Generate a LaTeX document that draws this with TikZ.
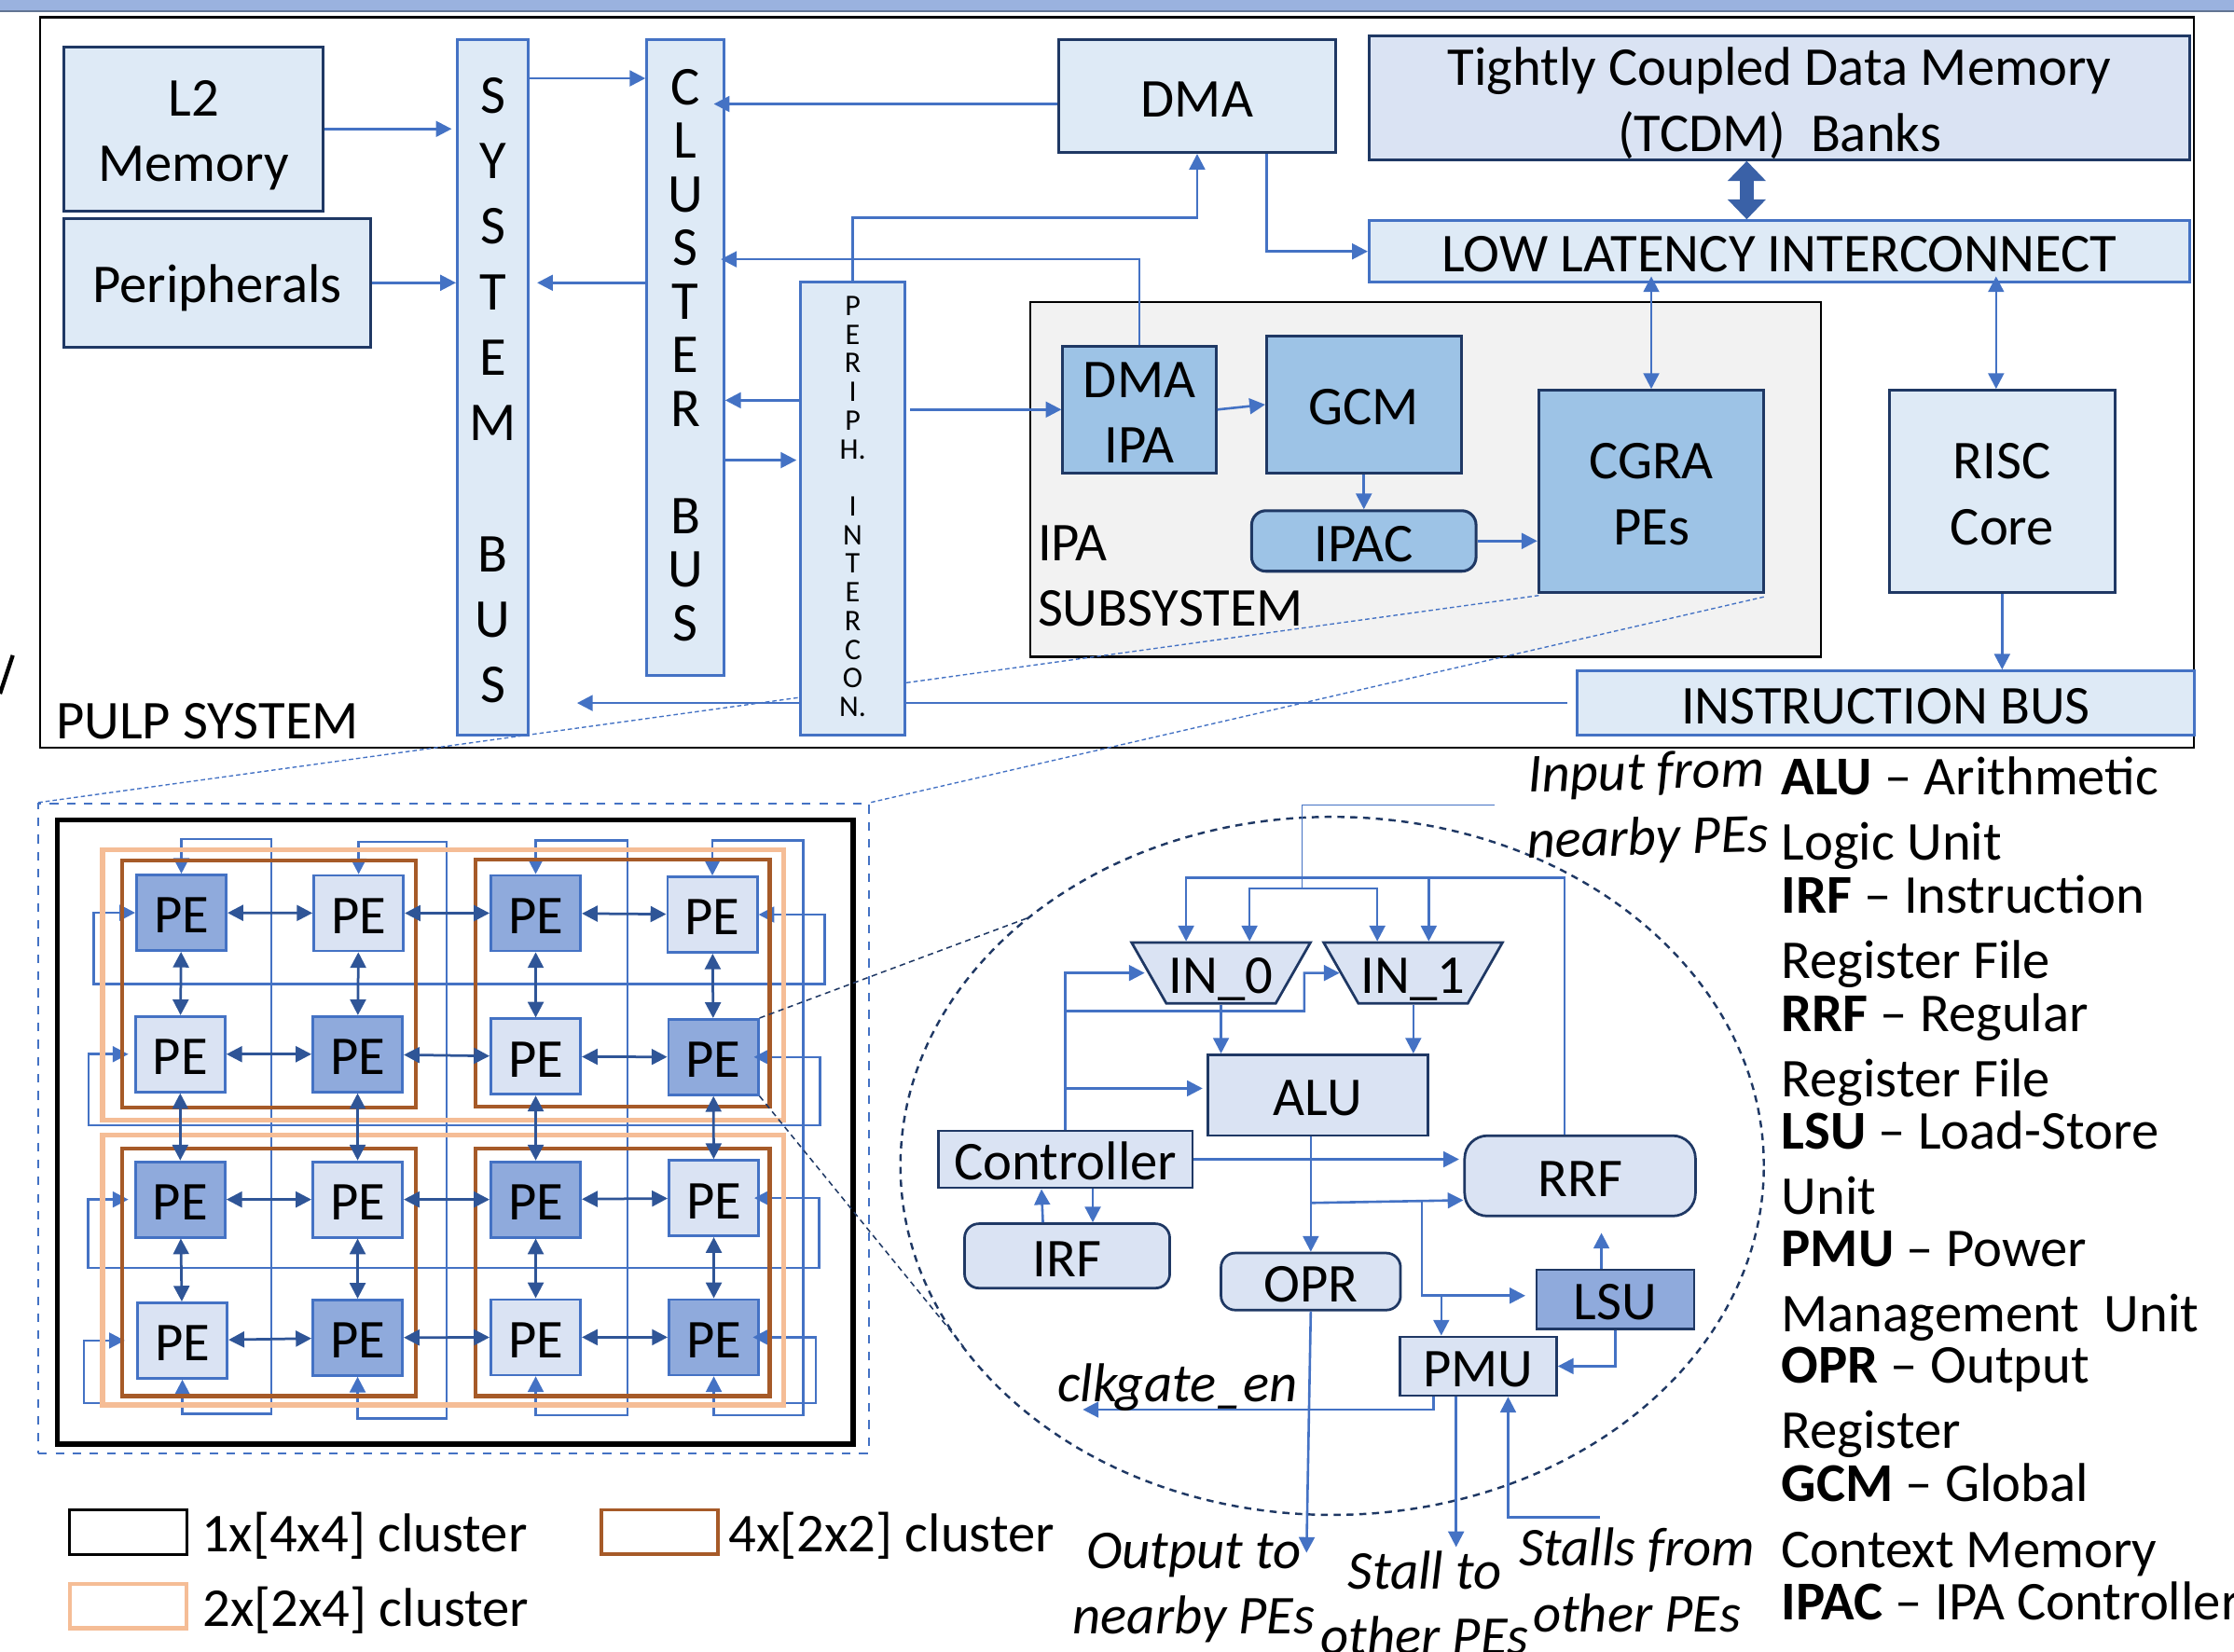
\documentclass[tikz,border=0pt]{standalone}
\usepackage{fontspec}
\setmainfont{Carlito}
\usetikzlibrary{arrows.meta,shapes.geometric}
\definecolor{paleblue}{HTML}{DEEAF6}
\definecolor{tcdmblue}{HTML}{DAE3F3}
\definecolor{ipablue}{HTML}{9DC3E6}
\definecolor{pedark}{HTML}{8FAADC}
\definecolor{flowblue}{HTML}{4472C4}
\definecolor{linkblue}{HTML}{2F5597}
\definecolor{navy}{HTML}{1F3864}
\definecolor{clusterbrown}{HTML}{A65A28}
\definecolor{clusterorange}{HTML}{F5BD96}
\tikzset{
    every node/.style={inner sep=0pt, align=center, font=\fontsize{19.2}{23}\selectfont,
        execute at begin node={\rule{0pt}{0.895em}},
        execute at end node={\rule[-0.147em]{0pt}{0pt}}},
    boxsize/.style 2 args={minimum width=#1*0.5pt, minimum height=#2*0.5pt},
    navybox/.style={draw=navy, line width=1pt, fill=paleblue},
    busbox/.style={draw=flowblue, line width=1pt, fill=paleblue},
    ipabox/.style={draw=navy, line width=1pt, fill=ipablue},
    corebox/.style={draw=navy, line width=0.9pt, fill=tcdmblue},
    roundbox/.style={corebox, rounded corners=5pt},
    muxbox/.style={corebox, trapezium, shape border rotate=180, trapezium stretches=true,
        trapezium left angle=60, trapezium right angle=60},
    pelight/.style={draw=flowblue, line width=0.9pt, fill=tcdmblue, boxsize={63}{53}},
    pedarkbox/.style={draw=flowblue, line width=0.9pt, fill=pedark, boxsize={63}{53}},
    brownframe/.style={draw=clusterbrown, line width=1.4pt, boxsize={206.5}{173.5}},
    orangeframe/.style={draw=clusterorange, line width=1.7pt, boxsize={478}{189.5}},
    legendbox/.style={boxsize={82}{31}, text height=0pt, text depth=0pt},
    flow/.style={draw=flowblue, line width=0.85pt, >={Triangle[length=5.5pt,width=5.5pt]}},
    pelink/.style={draw=linkblue, line width=0.9pt, <->, >={Triangle[length=5.5pt,width=5.5pt]}},
    zoomline/.style={draw=flowblue, line width=0.45pt, dash pattern=on 1.5pt off 1pt},
    zoomdark/.style={draw=navy, line width=0.5pt, dash pattern=on 2pt off 1.5pt},
    tag/.style={font=\fontsize{19.2}{23}\selectfont\itshape},
    gloss/.style={anchor=west, align=left},
}
\newcommand{\term}[1]{\textbf{#1}}
\newcommand{\firstline}{\rule{0pt}{0.895em}}
\begin{document}
\begin{tikzpicture}[x=0.5pt, y=-0.5pt]
    \useasboundingbox (0,0) rectangle (1568,1159.6);

    \fill[pedark!85!tcdmblue] (0,0) rectangle (1568,8);
    \draw[navy!70, line width=0.8pt] (0,8) -- (1568,8);
    \draw[black, line width=1.4pt] (9,460) -- (0,487);

    \node[draw=black, line width=0.8pt, fill=white, boxsize={1512}{513}] (pulpframe) at (784,268.5) {};
    \node[draw=black, line width=0.7pt, fill=black!5, boxsize={555}{249}] (ipaframe) at (1000.5,336.5) {};
    \node[draw=flowblue, line width=0.6pt, dashed, boxsize={583}{456}] (peframe) at (318.5,792) {};
    \coordinate (cgrasw) at (1080,418);
    \coordinate (cgrase) at (1238,419);
    \draw[zoomline] (cgrasw) -- (peframe.north west);
    \draw[zoomline] (cgrase) -- (peframe.north east);

    \node[anchor=west] (pulplabel) at (39,504) {PULP SYSTEM};
    \node[navybox, boxsize={182}{115}] (l2mem) at (136,90.5) {\firstline L2\\Memory};
    \node[navybox, boxsize={215}{90}] (periph) at (152.5,198.5) {Peripherals};
    \node[busbox, boxsize={50}{488}] (sysbus) at (346,272) {\firstline S\\Y\\S\\T\\E\\M\\[23pt]B\\U\\S};
    \node[busbox, boxsize={54}{446}, font=\fontsize{19.2}{18.8}\selectfont] (clusterbus) at (481,251) {\rule{0pt}{0.7em}C\\L\\U\\S\\T\\E\\R\\[18.8pt]B\\U\\S};
    \node[busbox, boxsize={73}{318}, font=\fontsize{10.5}{10.05}\selectfont] (periphic) at (598.5,357) {P\\E\\R\\I\\P\\H.\\[10.05pt]I\\N\\T\\E\\R\\C\\O\\N.};
    \node[navybox, boxsize={194.5}{79}] (dmablk) at (840.25,67.5) {DMA};
    \node[navybox, fill=tcdmblue, boxsize={576}{86.5}] (tcdm) at (1249,68.75) {\firstline Tightly Coupled Data Memory\\(TCDM)\ \ Banks};
    \node[busbox, boxsize={576}{43}] (lowlat) at (1249,176.5) {LOW LATENCY INTERCONNECT};
    \node[ipabox, boxsize={107.5}{89}] (dmaipa) at (799.75,287.5) {\firstline DMA\\IPA};
    \node[ipabox, boxsize={136.5}{96}] (gcm) at (957.25,284) {GCM};
    \node[ipabox, rounded corners=5pt, boxsize={157.5}{42.5}] (ipac) at (957.25,379.75) {IPAC};
    \node[ipabox, boxsize={158}{142}] (cgra) at (1159,345) {\firstline CGRA\\PEs};
    \node[navybox, boxsize={158.5}{142}] (risc) at (1405.25,345) {\firstline RISC\\Core};
    \node[busbox, boxsize={433}{45}] (instrbus) at (1323.5,493.5) {INSTRUCTION BUS};
    \node[gloss] (ipalabel) at (728,402) {\firstline IPA\\SUBSYSTEM};

    \draw[flow,->] (l2mem.east) -- ([xshift=-1.5pt]l2mem -| sysbus.west);
    \draw[flow,->] (periph.east) -- (periph -| sysbus.west);
    \draw[flow,->] (clusterbus.west |- 0,198.5) -- ([xshift=2.5pt]sysbus.east |- 0,198.5);
    \draw[flow,->] (sysbus.east |- 0,55) -- (clusterbus.west |- 0,55);
    \draw[flow,->] (dmablk.west |- 0,73) -- ([xshift=-4pt]clusterbus.east |- 0,73);
    \draw[flow,->] (periphic.north) |- (dmablk.south |- 0,153) -- (dmablk.south);
    \draw[flow,->] (dmaipa.north) |- ([xshift=-1.5pt]clusterbus.east |- 0,182);
    \draw[flow,->] (periphic.west |- 0,281) -- (clusterbus.east |- 0,281);
    \draw[flow,->] (clusterbus.east |- 0,323) -- ([xshift=-1pt]periphic.west |- 0,323);
    \draw[flow,->] ([xshift=1.5pt]periphic.east |- dmaipa) -- (dmaipa.west);
    \draw[flow,->] (dmablk.south -| 889,0) |- (lowlat.west);
    \draw[flow,line width=5pt,<->,>={Triangle[length=7pt,width=13pt]},draw=flowblue!85!black] (tcdm.south -| 1226,0) -- (lowlat.north -| 1226,0);
    \draw[flow,<->] ([yshift=2.5pt]cgra |- lowlat.south) -- (cgra.north);
    \draw[flow,<->] ([yshift=2.5pt]lowlat.south -| 1401,0) -- (cgra.north -| 1401,0);
    \draw[flow,->] (risc.south) -- (risc.south |- instrbus.north);
    \draw[flow] ([xshift=-3pt]instrbus.west) -- (periphic.east |- instrbus);
    \draw[flow,->] (periphic.west |- instrbus) -- (405,493.5);
    \draw[flow,->] (dmaipa.east) -- (gcm.west);
    \draw[flow,->] (gcm.south) -- (ipac.north);
    \draw[flow,->] (ipac.east) -- (cgra.west |- ipac);

    \node[pedarkbox] (pe11) at (127.3,640.7) {PE};
    \node[pelight] (pe12) at (251.7,641) {PE};
    \node[pedarkbox] (pe13) at (376,641) {PE};
    \node[pelight] (pe14) at (500,642) {PE};
    \node[pelight] (pe21) at (126.5,740) {PE};
    \node[pedarkbox] (pe22) at (251,740) {PE};
    \node[pelight] (pe23) at (376,741.7) {PE};
    \node[pedarkbox] (pe24) at (500.7,742) {PE};
    \node[pedarkbox] (pe31) at (126.5,842) {PE};
    \node[pelight] (pe32) at (251,842) {PE};
    \node[pedarkbox] (pe33) at (376,842) {PE};
    \node[pelight] (pe34) at (501,841) {PE};
    \node[pelight] (pe41) at (128,941) {PE};
    \node[pedarkbox] (pe42) at (251,939) {PE};
    \node[pelight] (pe43) at (376,938.7) {PE};
    \node[pedarkbox] (pe44) at (501,938.7) {PE};

    \draw[flow,<->] (pe11.north) |- (190.5,589) |- (pe41.south |- 0,992.5) -- (pe41.south);
    \draw[flow,<->] (pe12.north) |- (313.4,591) |- (pe42.south |- 0,995.8) -- (pe42.south);
    \draw[flow,<->] (pe13.north) |- (440.5,590) |- (pe43.south |- 0,993.4) -- (pe43.south);
    \draw[flow,<->] (pe14.north) |- (563.7,590) |- (pe44.south |- 0,993.4) -- (pe44.south);
    \draw[flow,<->] (pe11.west) -| (65.7,690.8) -| (579,642) -- (pe14.east);
    \draw[flow,<->,shorten <=2pt,shorten >=-2pt] (pe21.west) -| (62.2,790) -| (575.6,742) -- (pe24.east);
    \draw[flow,<->,shorten <=2pt,shorten >=-2pt] (pe31.west) -| (61.8,890) -| (575,841) -- (pe34.east);
    \draw[flow,<->,shorten <=4pt,shorten >=-2.5pt] (pe41.west) -| (59,985) -| (572.6,938.7) -- (pe44.east);

    \node[orangeframe] (orangetop) at (311,691.4) {};
    \node[orangeframe] (orangebot) at (311,891.5) {};
    \node[brownframe] (browntl) at (188.8,690.7) {};
    \node[brownframe] (browntr) at (436.9,690) {};
    \node[brownframe] (brownbl) at (188.8,893.2) {};
    \node[brownframe] (brownbr) at (436.9,893.2) {};

    \draw[pelink] (pe11) -- (pe12);
    \draw[pelink] (pe12) -- (pe13);
    \draw[pelink] (pe13) -- (pe14);
    \draw[pelink] (pe21) -- (pe22);
    \draw[pelink] (pe22) -- (pe23);
    \draw[pelink] (pe23) -- (pe24);
    \draw[pelink] (pe31) -- (pe32);
    \draw[pelink] (pe32) -- (pe33);
    \draw[pelink] (pe33) -- (pe34);
    \draw[pelink] (pe41) -- (pe42);
    \draw[pelink] (pe42) -- (pe43);
    \draw[pelink] (pe43) -- (pe44);
    \draw[pelink] (pe11) -- (pe21);
    \draw[pelink] (pe21) -- (pe31);
    \draw[pelink] (pe31) -- (pe41);
    \draw[pelink] (pe12) -- (pe22);
    \draw[pelink] (pe22) -- (pe32);
    \draw[pelink] (pe32) -- (pe42);
    \draw[pelink] (pe13) -- (pe23);
    \draw[pelink] (pe23) -- (pe33);
    \draw[pelink] (pe33) -- (pe43);
    \draw[pelink] (pe14) -- (pe24);
    \draw[pelink] (pe24) -- (pe34);
    \draw[pelink] (pe34) -- (pe44);

    \node[draw=black, line width=1.7pt, boxsize={558.7}{438}] (fourbyfour) at (319.4,794.7) {};

    \node[draw=navy, line width=0.8pt, dash pattern=on 2.5pt off 2pt, ellipse, boxsize={606}{490}] (peinner) at (935,818.4) {};
    \coordinate (zoomtop) at (720.7,644.6);
    \coordinate (zoombot) at (676,945);
    \draw[zoomdark] (pe24.north east) -- (zoomtop);
    \draw[zoomdark] (pe24.south east) -- (zoombot);

    \node[muxbox, boxsize={126}{42.6}] (inzero) at (857,683) {IN\_0};
    \node[muxbox, boxsize={126}{42.6}] (inone) at (991.8,683) {IN\_1};
    \node[corebox, boxsize={154}{56.7}] (alu) at (925,768.8) {ALU};
    \node[corebox, boxsize={178.4}{37.6}] (ctrl) at (747.8,813.8) {Controller};
    \node[roundbox, boxsize={144}{45.2}] (irf) at (749,881.6) {IRF};
    \node[roundbox, rounded corners=8pt, boxsize={162}{56.4}] (rrf) at (1109,825.4) {RRF};
    \node[roundbox, boxsize={126}{35.8}] (opr) at (920,899.6) {OPR};
    \node[corebox, fill=pedark, boxsize={110.5}{41.5}] (lsu) at (1133.75,912) {LSU};
    \node[corebox, boxsize={109.8}{41.2}] (pmu) at (1037.6,959) {PMU};

    \coordinate (inputfree) at (1049,565);
    \coordinate (inputjoin) at (914,623.7);
    \draw[flow, line width=0.5pt] (inputfree) -| (inputjoin);
    \draw[flow,<->] (inzero.north -| 877,0) |- (inputjoin) -| (inone.north -| 966.7,0);
    \draw[flow,->] (rrf.north -| 1098,0) |- (832.5,616) -- (inzero.north -| 832.5,0);
    \draw[flow,->] (1002.8,616) -- (inone.north -| 1002.8,0);
    \draw[flow,->] (ctrl.north) |- ([xshift=-1pt]inzero.west);
    \coordinate (ctrlbranch) at (748,709.7);
    \draw[flow,->] (ctrlbranch) -| (915.4,683) -- (inone.west);
    \draw[flow,->] (ctrl.north |- 0,764) -- ([xshift=-1.5pt]alu.west |- 0,764);
    \draw[flow,->] (857,0 |- inzero.south) -- (857,0 |- alu.north);
    \draw[flow,->] (992,0 |- inone.south) -- (992,0 |- alu.north);
    \draw[flow,->] (ctrl.east) -- ([xshift=-1.5pt]rrf.west |- ctrl.east);
    \draw[flow,->] (alu.south -| opr.north) -- (opr.north);
    \coordinate (alubranch) at (919.8,844.4);
    \draw[flow,->] (alubranch) -- (rrf.west |- 0,842.5);
    \coordinate (lsubranch) at (998,843);
    \draw[flow,->] (lsubranch) |- ([xshift=-3.5pt]lsu.west |- 0,909.5);
    \draw[flow,->] (1011.6,909.5) -- (pmu.north -| 1011.6,0);
    \draw[flow,->] (lsu.north -| 1124,0) -- (1124,865.4);
    \draw[flow,->] (lsu.south) |- (pmu.east);
    \coordinate (clkfree) at (760,989.5);
    \draw[flow,->] (pmu.south -| 1006,0) |- (clkfree);
    \coordinate (outfree) at (917,1090);
    \draw[flow,->] (opr.south) -- (outfree);
    \coordinate (stallout) at (1022,1086);
    \draw[flow,->] (pmu.south -| stallout) -- (stallout);
    \coordinate (stallin) at (1123,1065);
    \draw[flow,->] (stallin) -| (pmu.south -| 1058.5,0);
    \draw[flow,->] (732,0 |- irf.north) -- (731,0 |- ctrl.south);
    \draw[flow,->] (767,0 |- ctrl.south) -- (767,0 |- irf.north);

    \node[tag, rotate=1.5] (inlabel) at (1156,563) {\firstline Input from\\nearby PEs};
    \node[tag] (clklabel) at (826.5,970) {clkgate\_en};
    \node[tag] (outlabel) at (838,1110) {\firstline Output to\\nearby PEs};
    \node[tag] (stallto) at (1000,1124) {\firstline Stall to\\other PEs};
    \node[tag] (stallfrom) at (1149,1108) {\firstline Stalls from\\other PEs};

    \node[legendbox, draw=black, line width=1pt] (legblack) at (90,1075.5) {};
    \node[legendbox, draw=clusterbrown, line width=1.1pt] (legbrown) at (463,1075.5) {};
    \node[legendbox, draw=clusterorange, line width=1.4pt] (legorange) at (90,1127.5) {};
    \node[anchor=west] (legblacktext) at (141,1075) {1x[4x4] cluster};
    \node[anchor=west] (legbrowntext) at (511,1075) {4x[2x2] cluster};
    \node[anchor=west] (legorangetext) at (142,1127) {2x[2x4] cluster};

    \node[gloss] (glossalu) at (1250,567) {\firstline\term{ALU} -- Arithmetic\\Logic Unit};
    \node[gloss] (glossirf) at (1250,650) {\firstline\term{IRF} -- Instruction\\Register File};
    \node[gloss] (glossrrf) at (1250,733) {\firstline\term{RRF} -- Regular\\Register File};
    \node[gloss] (glosslsu) at (1250,815) {\firstline\term{LSU} -- Load-Store\\Unit};
    \node[gloss] (glosspmu) at (1250,898) {\firstline\term{PMU} -- Power\\Management\ \ Unit};
    \node[gloss] (glossopr) at (1250,980) {\firstline\term{OPR} -- Output\\Register};
    \node[gloss] (glossgcm) at (1250,1063) {\firstline\term{GCM} -- Global\\Context Memory};
    \node[gloss] (glossipac) at (1250,1123) {\term{IPAC} -- IPA Controller};
\end{tikzpicture}
\end{document}
